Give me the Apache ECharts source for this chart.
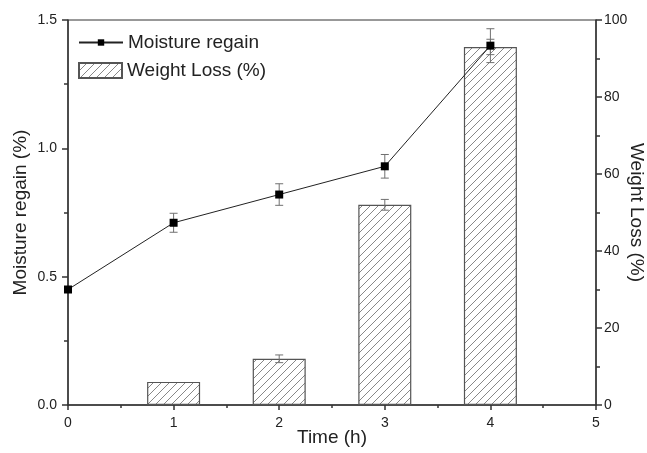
<!DOCTYPE html>
<html>
<head>
<meta charset="utf-8">
<script src="https://cdn.jsdelivr.net/npm/echarts@6/dist/echarts.min.js"></script>
<style>
html,body{margin:0;padding:0;background:#fff;}
#chart{width:647px;height:453px;}
</style>
</head>
<body>
<div id="chart"></div>
<script>
// ---- data ----
const times = [0, 1, 2, 3, 4];
const moisture = [0.45, 0.71, 0.82, 0.93, 1.40];
const moistureErr = [0.01, 0.037, 0.042, 0.046, 0.066];
const wlTimes = [1, 2, 3, 4];
const weightLoss = [6, 12, 52, 93];
const weightLossErr = [0, 1, 1.4, 2];
const xTicks = [0, 1, 2, 3, 4, 5];

// ---- hatch pattern ----
function makeHatch() {
  const c = document.createElement('canvas');
  c.width = 8; c.height = 8;
  const g = c.getContext('2d');
  g.fillStyle = '#fff';
  g.fillRect(0, 0, 8, 8);
  g.strokeStyle = '#888';
  g.lineWidth = 1;
  g.beginPath();
  g.moveTo(-1, 9); g.lineTo(9, -1);
  g.moveTo(-1, 1); g.lineTo(1, -1);
  g.moveTo(7, 9); g.lineTo(9, 7);
  g.stroke();
  return c;
}
const hatch = { image: makeHatch(), repeat: 'repeat' };

function errRender(params, api) {
  const x = api.value(0), y = api.value(1), e = api.value(2);
  if (!e) return null;
  const hi = api.coord([x, y + e]);
  const lo = api.coord([x, y - e]);
  const w = 4;
  const st = { stroke: '#707070', lineWidth: 1 };
  return {
    type: 'group',
    children: [
      { type: 'line', shape: { x1: hi[0], y1: hi[1], x2: lo[0], y2: lo[1] }, style: st },
      { type: 'line', shape: { x1: hi[0] - w, y1: hi[1], x2: hi[0] + w, y2: hi[1] }, style: st },
      { type: 'line', shape: { x1: lo[0] - w, y1: lo[1], x2: lo[0] + w, y2: lo[1] }, style: st }
    ]
  };
}

const FONT = '"Liberation Sans", Arial, sans-serif';
const axisLineStyle = { color: '#333', width: 1.5 };
const legendText = { fontSize: 19, fontFamily: FONT, color: '#222' };

const chart = echarts.init(document.getElementById('chart'), null, { renderer: 'canvas' });
chart.setOption({
  animation: false,
  backgroundColor: '#fff',
  textStyle: { fontFamily: FONT, color: '#222' },
  grid: { left: 68, right: 51, top: 20, bottom: 48, show: true, borderColor: '#333', borderWidth: 1,
          backgroundColor: 'transparent', containLabel: false, outerBoundsMode: 'none' },
  legend: [
    {
      orient: 'vertical', left: 73, top: 28,
      itemWidth: 44, itemHeight: 8,
      textStyle: legendText,
      data: ['Moisture regain']
    },
    {
      orient: 'vertical', left: 73, top: 56,
      itemWidth: 43, itemHeight: 15,
      textStyle: legendText,
      data: [{ name: 'Weight Loss (%)', icon: 'rect' }]
    }
  ],
  xAxis: {
    type: 'value', min: 0, max: 5, interval: 1,
    name: 'Time (h)', nameLocation: 'middle', nameGap: 23, nameMoveOverlap: false,
    nameTextStyle: { fontSize: 19, fontFamily: FONT, color: '#222' },
    axisLine: { show: true, lineStyle: axisLineStyle },
    axisTick: { show: true, length: 5, lineStyle: { color: '#333', width: 1.5 } },
    minorTick: { show: true, splitNumber: 2, length: 3, lineStyle: { color: '#333', width: 1.5 } },
    splitLine: { show: false },
    axisLabel: { fontSize: 14, color: '#222', margin: 11, fontFamily: FONT,
      formatter: v => xTicks.includes(v) ? String(v) : '' }
  },
  yAxis: [
    {
      type: 'value', min: 0, max: 1.5, interval: 0.5, position: 'left',
      name: 'Moisture regain (%)', nameLocation: 'middle', nameGap: 38, nameRotate: 90, nameMoveOverlap: false,
      nameTextStyle: { fontSize: 19, fontFamily: FONT, color: '#222' },
      axisLine: { show: true, lineStyle: axisLineStyle },
      axisTick: { show: true, length: 6, lineStyle: { color: '#333', width: 1.5 } },
      minorTick: { show: true, splitNumber: 2, length: 4, lineStyle: { color: '#333', width: 1.5 } },
      splitLine: { show: false },
      axisLabel: { fontSize: 14, color: '#222', margin: 11, fontFamily: FONT, formatter: v => v.toFixed(1) }
    },
    {
      type: 'value', min: 0, max: 100, interval: 20, position: 'right',
      name: 'Weight Loss (%)', nameLocation: 'middle', nameGap: 31, nameRotate: -90, nameMoveOverlap: false,
      nameTextStyle: { fontSize: 19, fontFamily: FONT, color: '#222' },
      axisLine: { show: true, lineStyle: axisLineStyle },
      axisTick: { show: true, length: 6, lineStyle: { color: '#333', width: 1.5 } },
      minorTick: { show: true, splitNumber: 2, length: 4, lineStyle: { color: '#333', width: 1.5 } },
      splitLine: { show: false },
      axisLabel: { fontSize: 14, color: '#222', margin: 8, fontFamily: FONT }
    }
  ],
  series: [
    {
      name: 'Weight Loss (%)', type: 'bar', xAxisIndex: 0, yAxisIndex: 1,
      barWidth: 53,
      data: wlTimes.map((t, i) => [t, weightLoss[i]]),
      itemStyle: { color: hatch, borderColor: '#555', borderWidth: 1.2 },
      z: 1
    },
    {
      name: 'wlErr', type: 'custom', xAxisIndex: 0, yAxisIndex: 1,
      renderItem: errRender,
      data: wlTimes.map((t, i) => [t, weightLoss[i], weightLossErr[i]]),
      z: 2, silent: true
    },
    {
      name: 'mErr', type: 'custom', xAxisIndex: 0, yAxisIndex: 0,
      renderItem: errRender,
      data: times.map((t, i) => [t, moisture[i], moistureErr[i]]),
      z: 3, silent: true
    },
    {
      name: 'Moisture regain', type: 'line', xAxisIndex: 0, yAxisIndex: 0,
      data: times.map((t, i) => [t, moisture[i]]),
      symbol: 'rect', symbolSize: 8, clip: false,
      itemStyle: { color: '#000' },
      lineStyle: { color: '#222', width: 1 },
      z: 4
    }
  ]
});
</script>
</body>
</html>
